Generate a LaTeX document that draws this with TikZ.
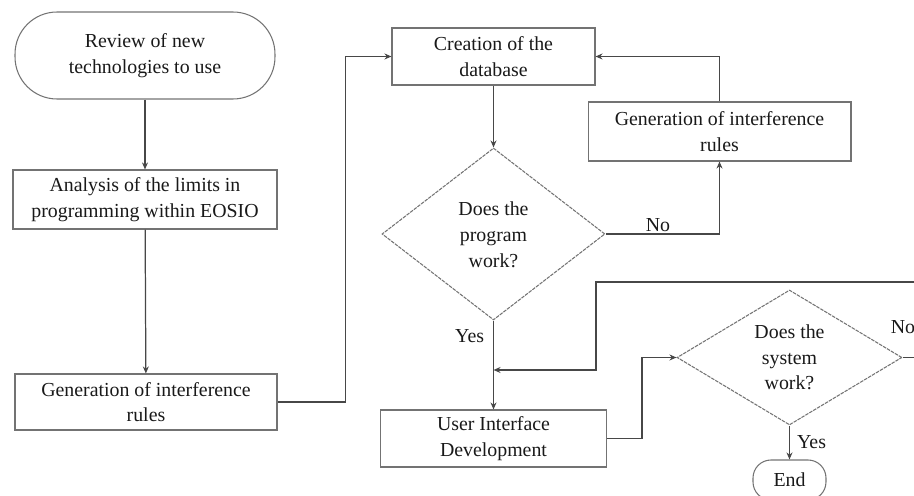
\documentclass[tikz,border=0pt]{standalone}
\usepackage{fontspec}
\setmainfont{Liberation Serif}
\usepackage{xcolor}
\usepackage{tikz}
\usetikzlibrary{arrows.meta,shapes.geometric}

\colorlet{linegray}{black!72}
\colorlet{boxgray}{black!55}

\begin{document}
\begin{tikzpicture}[x=0.02cm, y=-0.02cm, >={Stealth[length=4pt,width=3.4pt]},
  every node/.style={font=\fontsize{11.3}{14.6}\selectfont, text=black!90},
  terminal/.style={draw=boxgray, line width=0.6pt, align=center, inner sep=1pt},
  procbox/.style={draw=boxgray, line width=0.6pt, rectangle, align=center, inner sep=1pt},
  decision/.style={draw=boxgray, line width=0.6pt, dashed, dash pattern=on 2pt off 0.6pt, diamond, aspect=2, align=center, inner sep=1pt},
  flow/.style={->, draw=linegray, line width=0.7pt},
  lbl/.style={inner sep=1pt}]
\path[use as bounding box, clip] (0,0) rectangle (914,496);

% Left column
\node[terminal, rounded corners=0.84cm, minimum width=5.2cm, minimum height=1.74cm] (review) at (145,55.5) {Review of new\\technologies to use};
\node[procbox, minimum width=5.28cm, minimum height=1.18cm] (limits) at (145,199.5) {Analysis of the limits in\\programming within EOSIO};
\node[procbox, minimum width=5.24cm, minimum height=1.12cm] (rules1) at (146,402) {Generation of interference\\rules};

% Middle column
\node[procbox, minimum width=4.06cm, minimum height=1.14cm] (database) at (493.5,56.5) {Creation of the\\database};
\node[decision, minimum width=4.46cm, minimum height=3.44cm] (progok) at (493.5,234) {\\[-6pt]Does the\\program\\work?};
\node[procbox, minimum width=4.52cm, minimum height=1.14cm] (uidev) at (493.5,438.5) {User Interface\\Development};

% Right column
\node[procbox, minimum width=5.26cm, minimum height=1.18cm] (rules2) at (719.5,131.5) {Generation of interference\\rules};
\node[decision, minimum width=4.5cm, minimum height=2.7cm] (sysok) at (789.5,357.5) {Does the\\system\\work?};
\node[terminal, rounded corners=0.36cm, minimum width=1.46cm, minimum height=0.8cm] (finish) at (789.5,480) {End};

% Connectors
\draw[flow] (review) -- (limits);
\draw[flow] (limits) -- (rules1);
\draw[flow] (rules1.east) -- ++(68,0) |- (database.west);
\draw[flow] (database) -- (progok);
\draw[flow] (progok.east) -| (rules2.south) node[lbl, pos=0.23, above] {No};
\draw[flow] (rules2.north) |- (database.east);
\draw[flow] (progok.south) -- (uidev.north) node[lbl, pos=0.17, left=4pt] {Yes};
\draw[flow] (uidev.east) -- ++(35,0) |- (sysok.west);
\draw[flow] (sysok.south) -- (finish.north) node[lbl, midway, right=3pt] {Yes};

% Loop back from the second decision
\coordinate (loopturn) at (596,282);
\draw[flow] (sysok.east) node[lbl, anchor=south west, xshift=-8pt, yshift=12pt] {No}
  -- ++(30,0) |- (loopturn) |- (progok.south |- 0,370);
\end{tikzpicture}
\end{document}
